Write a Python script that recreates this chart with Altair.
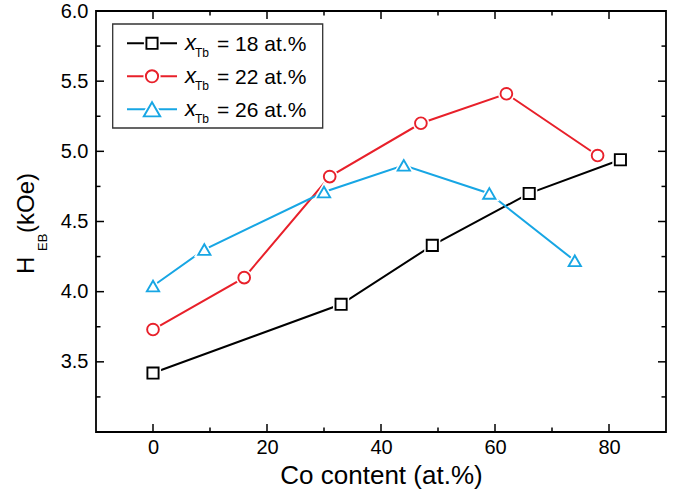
import altair as alt
import pandas as pd

# ---- data ----
series = ["18", "22", "26"]
co_18 = [0, 33, 49, 66, 82]
h_18 = [3.42, 3.91, 4.33, 4.70, 4.94]
co_22 = [0, 16, 31, 47, 62, 78]
h_22 = [3.73, 4.10, 4.82, 5.20, 5.41, 4.97]
co_26 = [0, 9, 30, 44, 59, 74]
h_26 = [4.04, 4.30, 4.71, 4.90, 4.70, 4.22]

x_major = [0, 20, 40, 60, 80]
x_minor = [10, 30, 50, 70]
y_labels = [3.5, 4.0, 4.5, 5.0, 5.5, 6.0]
y_major = [3.5, 4.0, 4.5, 5.0, 5.5]
y_minor = [3.25, 3.75, 4.25, 4.75, 5.25, 5.75]

# ---- styling ----
colors = ["#000000", "#E8202A", "#17A6E4"]
shapes = ["square", "circle", "triangle-up"]
sizes = [125, 150, 270]
W, H = 570, 421
FONT = "Liberation Sans"

rows = []
for s, cos, hs in [("18", co_18, h_18), ("22", co_22, h_22), ("26", co_26, h_26)]:
    for c, h in zip(cos, hs):
        rows.append({"series": s, "co": c, "h": h})
df = pd.DataFrame(rows)

col_scale = alt.Scale(domain=series, range=colors)
shape_scale = alt.Scale(domain=series, range=shapes)
size_scale = alt.Scale(domain=series, range=sizes)

x_enc = alt.X(
    "co:Q",
    scale=alt.Scale(domain=[-10, 90], nice=False, zero=False),
    axis=alt.Axis(values=x_major, ticks=False, domain=False, grid=False,
                  labelFontSize=20, labelPadding=5, labelFlush=False,
                  labelColor="black", title="Co content (at.%)",
                  titleFontSize=26, titleFontWeight="normal",
                  titleColor="black", titlePadding=5),
)
y_enc = alt.Y(
    "h:Q",
    scale=alt.Scale(domain=[3, 6], nice=False, zero=False),
    axis=alt.Axis(values=y_labels, format=".1f", ticks=False, domain=False,
                  grid=False, labelFontSize=20, labelPadding=8,
                  labelFlush=False, labelColor="black", title=None),
)

base = alt.Chart(df)
lines = base.mark_line(strokeWidth=2).encode(
    x=x_enc, y=y_enc,
    color=alt.Color("series:N", scale=col_scale, legend=None),
)
halo = base.mark_point(filled=True, fill="white", stroke="white",
                       strokeWidth=5, opacity=1).encode(
    x="co:Q", y="h:Q",
    shape=alt.Shape("series:N", scale=shape_scale, legend=None),
    size=alt.Size("series:N", scale=size_scale, legend=None),
)
points = base.mark_point(filled=False, fill="white", fillOpacity=1,
                         strokeWidth=1.9, opacity=1).encode(
    x="co:Q", y="h:Q",
    stroke=alt.Stroke("series:N", scale=col_scale, legend=None),
    shape=alt.Shape("series:N", scale=shape_scale, legend=None),
    size=alt.Size("series:N", scale=size_scale, legend=None),
)

# ---- inward ticks on all four sides ----
def xticks(vals, length):
    d = pd.DataFrame({"co": vals})
    bot = alt.Chart(d).mark_rule(color="black", strokeWidth=1.5).encode(
        x="co:Q", y=alt.value(H), y2=alt.value(H - length))
    top = alt.Chart(d).mark_rule(color="black", strokeWidth=1.5).encode(
        x="co:Q", y=alt.value(0), y2=alt.value(length))
    return [bot, top]

def yticks(vals, length):
    d = pd.DataFrame({"h": vals})
    left = alt.Chart(d).mark_rule(color="black", strokeWidth=1.5).encode(
        y="h:Q", x=alt.value(0), x2=alt.value(length))
    right = alt.Chart(d).mark_rule(color="black", strokeWidth=1.5).encode(
        y="h:Q", x=alt.value(W), x2=alt.value(W - length))
    return [left, right]

tick_layers = (xticks(x_major, 8) + xticks(x_minor, 4.5)
               + yticks(y_major, 8) + yticks(y_minor, 4.5))

# ---- custom legend (with subscripts) ----
legend_layers = []
box = alt.Chart(pd.DataFrame({"a": [0]})).mark_rect(
    fill="white", stroke="#333333", strokeWidth=1.3).encode(
    x=alt.value(16.7), x2=alt.value(226.7), y=alt.value(13), y2=alt.value(117))
legend_layers.append(box)
for i, s in enumerate(series):
    yy = 32.3 + 33 * i
    d = pd.DataFrame({"main": [f"= {s} at.%"], "var": ["x"], "sub": ["Tb"]})
    c = alt.Chart(d)
    legend_layers.append(c.mark_rule(color=colors[i], strokeWidth=2).encode(
        x=alt.value(31), x2=alt.value(81), y=alt.value(yy)))
    legend_layers.append(c.mark_point(shape=shapes[i], size=sizes[i], filled=True,
                                      fill="white", stroke="white", strokeWidth=5,
                                      opacity=1).encode(
        x=alt.value(56), y=alt.value(yy)))
    legend_layers.append(c.mark_point(shape=shapes[i], size=sizes[i], filled=False,
                                      fill="white", fillOpacity=1, stroke=colors[i],
                                      strokeWidth=1.9, opacity=1).encode(
        x=alt.value(56), y=alt.value(yy)))
    legend_layers.append(c.mark_text(align="left", baseline="alphabetic",
                                     fontSize=22, fontStyle="italic", font=FONT,
                                     color="black").encode(
        x=alt.value(89), y=alt.value(yy + 7), text="var:N"))
    legend_layers.append(c.mark_text(align="left", baseline="alphabetic",
                                     fontSize=12, font=FONT, color="black").encode(
        x=alt.value(99), y=alt.value(yy + 14), text="sub:N"))
    legend_layers.append(c.mark_text(align="left", baseline="alphabetic",
                                     fontSize=21, font=FONT, color="black").encode(
        x=alt.value(121), y=alt.value(yy + 7.5), text="main:N"))

# ---- y-axis title with subscript ----
yt = pd.DataFrame({"a": ["H"], "b": ["EB"], "c": ["(kOe)"]})
ytc = alt.Chart(yt)
ytitle = [
    ytc.mark_text(angle=270, align="left", baseline="alphabetic", fontSize=24,
                  font=FONT, color="black").encode(
        x=alt.value(-62), y=alt.value(263), text="a:N"),
    ytc.mark_text(angle=270, align="left", baseline="alphabetic", fontSize=13,
                  font=FONT, color="black").encode(
        x=alt.value(-49), y=alt.value(240), text="b:N"),
    ytc.mark_text(angle=270, align="left", baseline="alphabetic", fontSize=24,
                  font=FONT, color="black").encode(
        x=alt.value(-62), y=alt.value(222), text="c:N"),
]

chart = alt.layer(lines, halo, points, *tick_layers, *legend_layers, *ytitle).properties(
    width=W, height=H,
    autosize=alt.AutoSizeParams(type="none"),
    padding={"left": 96, "top": 11, "right": 7, "bottom": 57},
).configure(font=FONT).configure_view(stroke="black", strokeWidth=1.8)

chart.save("out.html", embed_options={"renderer": "svg", "actions": False})
